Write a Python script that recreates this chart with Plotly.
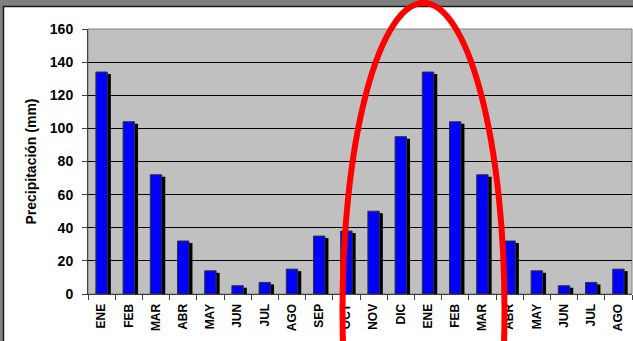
import plotly.graph_objects as go

# Monthly precipitation, two hydrological years shown side by side
months = ["ENE", "FEB", "MAR", "ABR", "MAY", "JUN", "JUL", "AGO", "SEP", "OCT",
          "NOV", "DIC", "ENE", "FEB", "MAR", "ABR", "MAY", "JUN", "JUL", "AGO"]
precip_mm = [134, 104, 72, 32, 14, 5, 7, 15, 35, 38,
             50, 95, 134, 104, 72, 32, 14, 5, 7, 15]
y_ticks = [0, 20, 40, 60, 80, 100, 120, 140, 160]

W, H = 633, 341
L, R, T, B = 88, 1, 29, 47
PW, PH = W - L - R, H - T - B


def px(x):
    return (x - L) / PW


def py(y):
    return (H - B - y) / PH


FONT = "Arial, Liberation Sans, sans-serif"
idx = list(range(len(months)))

fig = go.Figure()
# drop shadow behind each column
fig.add_trace(go.Bar(
    x=idx, y=precip_mm, base=-1.2, width=0.42, offset=-0.08,
    marker=dict(color="#000000", line=dict(width=0)),
    hoverinfo="skip", showlegend=False))
# the columns themselves
fig.add_trace(go.Bar(
    x=idx, y=precip_mm, width=0.42, offset=-0.21,
    marker=dict(color="#0000FF", line=dict(color="#333333", width=1)),
    showlegend=False))

shapes = [
    # plot frame
    dict(type="rect", xref="paper", yref="paper", x0=0, x1=1, y0=0, y1=1,
         line=dict(color="#808080", width=1), layer="between"),
    # outer window frame
    dict(type="rect", xref="paper", yref="paper", x0=px(0), x1=px(W), y0=py(6), y1=py(-1),
         fillcolor="#808080", line=dict(width=0), layer="above"),
    dict(type="rect", xref="paper", yref="paper", x0=px(-1), x1=px(3), y0=py(H + 1), y1=py(6),
         fillcolor="#808080", line=dict(width=0), layer="above"),
    dict(type="line", xref="paper", yref="paper", x0=px(3), x1=px(W), y0=py(6.5), y1=py(6.5),
         line=dict(color="#1a1a1a", width=1.5), layer="above"),
    dict(type="line", xref="paper", yref="paper", x0=px(3.5), x1=px(3.5), y0=py(H), y1=py(6),
         line=dict(color="#1a1a1a", width=1.5), layer="above"),
    # red highlight ellipse around the rainy season
    dict(type="circle", xref="paper", yref="paper",
         x0=px(423.5 - 81), x1=px(423.5 + 81), y0=py(310 + 307), y1=py(3),
         line=dict(color="#FF0000", width=6), layer="above"),
]

fig.update_layout(
    width=W, height=H,
    margin=dict(l=L, r=R, t=T, b=B, pad=0),
    paper_bgcolor="#FFFFFF",
    plot_bgcolor="#C0C0C0",
    barmode="overlay",
    shapes=shapes,
    font=dict(family=FONT, color="#000000"),
    xaxis=dict(
        range=[-0.5, len(months) - 0.5],
        tickmode="array", tickvals=idx, ticktext=months,
        tickangle=-90, ticks="", showgrid=False, zeroline=False,
        tickfont=dict(family=FONT, size=12, color="#000000", weight="bold"),
        ticklabelstandoff=4,
        showline=True, linecolor="#404040", linewidth=1,
        minor=dict(tick0=0.5, dtick=1, ticks="outside", ticklen=5,
                   tickcolor="#404040", tickwidth=1, showgrid=False),
        fixedrange=True,
    ),
    yaxis=dict(
        range=[0, 160], tickmode="array", tickvals=y_ticks,
        ticks="outside", ticklen=5, tickcolor="#404040", tickwidth=1,
        tickfont=dict(family=FONT, size=14, color="#000000", weight="bold"),
        ticklabelstandoff=6,
        showgrid=True, gridcolor="#000000", gridwidth=1,
        zeroline=False, showline=True, linecolor="#404040", linewidth=1,
        fixedrange=True,
    ),
    annotations=[dict(
        text="Precipitación (mm)", xref="paper", yref="paper",
        x=px(30), y=0.5, xanchor="center", yanchor="middle",
        textangle=-90, showarrow=False,
        font=dict(family=FONT, size=14, color="#000000", weight="bold"),
    )],
)

fig.write_html("out.html", config={"displayModeBar": False})
